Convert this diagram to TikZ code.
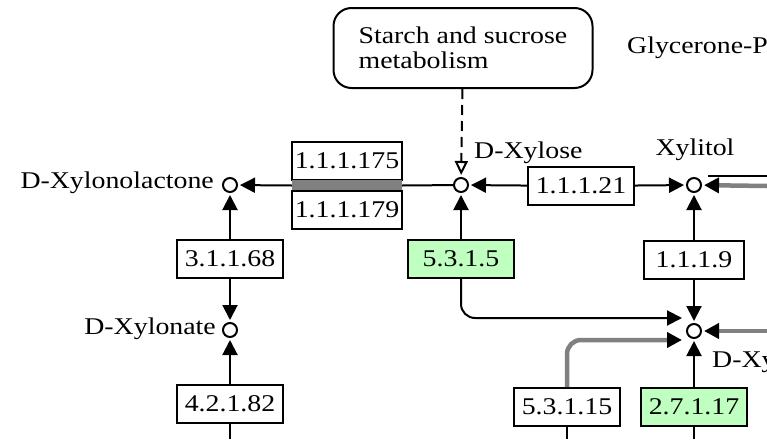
\documentclass[tikz,border=0pt]{standalone}
\usepackage{fontspec}
\setmainfont{Liberation Serif}[FakeStretch=1.16]
\usetikzlibrary{arrows.meta,positioning,shapes}
\definecolor{kegggreen}{RGB}{191,255,191}

\begin{document}
\begin{tikzpicture}[x=1pt,y=-1pt,
  cpd/.style={draw,circle,line width=2pt,inner sep=0pt,minimum size=14pt},
  lbl/.style={font=\fontsize{24}{25}\selectfont,inner sep=0pt},
  enz/.style={draw,rectangle,line width=2pt,minimum width=106pt,minimum height=38pt,inner sep=0pt,lbl},
  gene/.style={enz,fill=kegggreen},
  rxn/.style={line width=2pt,-{Triangle[length=15pt,width=15pt,black]},shorten >=2pt},
  graylink/.style={rxn,draw=gray,line width=4.5pt}]
\useasboundingbox (0,0) rectangle (767,439);
\clip (0,0) rectangle (767,439);
\fill[white] (0,0) rectangle (767,439);
\node[draw,rounded corners=18pt,line width=2pt,minimum width=259pt,minimum height=80pt,align=left,lbl] (starch) at (463,48) {Starch and sucrose\\metabolism};
\node[lbl,anchor=west] (glyc) at (627,48) {Glycerone-P};
\node[cpd] (xyn) at (230,185) {};
\node[cpd] (xylose) at (461,185) {};
\node[cpd] (xylitol) at (694,185) {};
\node[cpd] (xylonate) at (230,330) {};
\node[cpd] (xylulose) at (694,331) {};
\node[lbl,anchor=east] (xynl) at (214,183) {D-Xylonolactone};
\node[lbl,anchor=west] (xylosel) at (474,153) {D-Xylose};
\node[lbl] (xylitoll) at (695,150) {Xylitol};
\node[lbl,anchor=east] (xylonatel) at (216,329) {D-Xylonate};
\node[lbl,anchor=west] (xylulosel) at (712,362) {D-Xylulose};
\node[enz,minimum width=110pt] (e175) at (347,161) {1.1.1.175};
\node[fill=gray,minimum width=110pt,minimum height=11pt,inner sep=0pt] (bar) at (347,185.5) {};
\node[enz,minimum width=110pt] (e179) at (347,210) {1.1.1.179};
\node[enz] (e21) at (581,186) {1.1.1.21};
\node[enz] (e68) at (230,259) {3.1.1.68};
\node[enz] (e82) at (230,404) {4.2.1.82};
\node[gene] (e5) at (461,259) {5.3.1.5};
\node[enz,minimum width=100pt] (e9) at (694,260) {1.1.1.9};
\node[enz] (e15) at (567,407) {5.3.1.15};
\node[gene] (e17) at (694,407) {2.7.1.17};
\coordinate (a1) at (684,318);
\coordinate (a2) at (684,340);
\coordinate (b1) at (230,439);
\coordinate (b2) at (567,439);
\coordinate (b3) at (694,439);
\coordinate (r0) at (708,176);
\coordinate (r1) at (767,176);
\coordinate (r2) at (767,186);
\coordinate (r3) at (767,331);
\draw[dash pattern=on 10pt off 6pt,line width=2pt,-{Triangle[open,length=14pt,width=13pt]},shorten >=2pt] (starch) -- (xylose);
\draw[rxn] (bar.west) -- (xyn);
\draw[line width=2pt] (xylose) -- (bar.east);
\draw[rxn] (e21) -- (xylose);
\draw[rxn] (e21) -- (xylitol);
\draw[rxn] (e68) -- (xyn);
\draw[rxn] (e68) -- (xylonate);
\draw[rxn] (e82) -- (xylonate);
\draw[line width=2pt] (e82.south) -- (b1);
\draw[rxn] (e5) -- (xylose);
\draw[rxn,rounded corners=14pt] (e5.south) |- (a1);
\draw[rxn] (e9) -- (xylitol);
\draw[rxn] (e9) -- (xylulose);
\draw[rxn] (e17) -- (xylulose);
\draw[line width=2pt] (e17.south) -- (b3);
\draw[graylink,rounded corners=14pt] (e15.north) |- (a2);
\draw[line width=2pt] (e15.south) -- (b2);
\draw[line width=2pt] (r0) -- (r1);
\draw[graylink] (r2) -- (xylitol);
\draw[graylink] (r3) -- (xylulose);
\end{tikzpicture}
\end{document}
